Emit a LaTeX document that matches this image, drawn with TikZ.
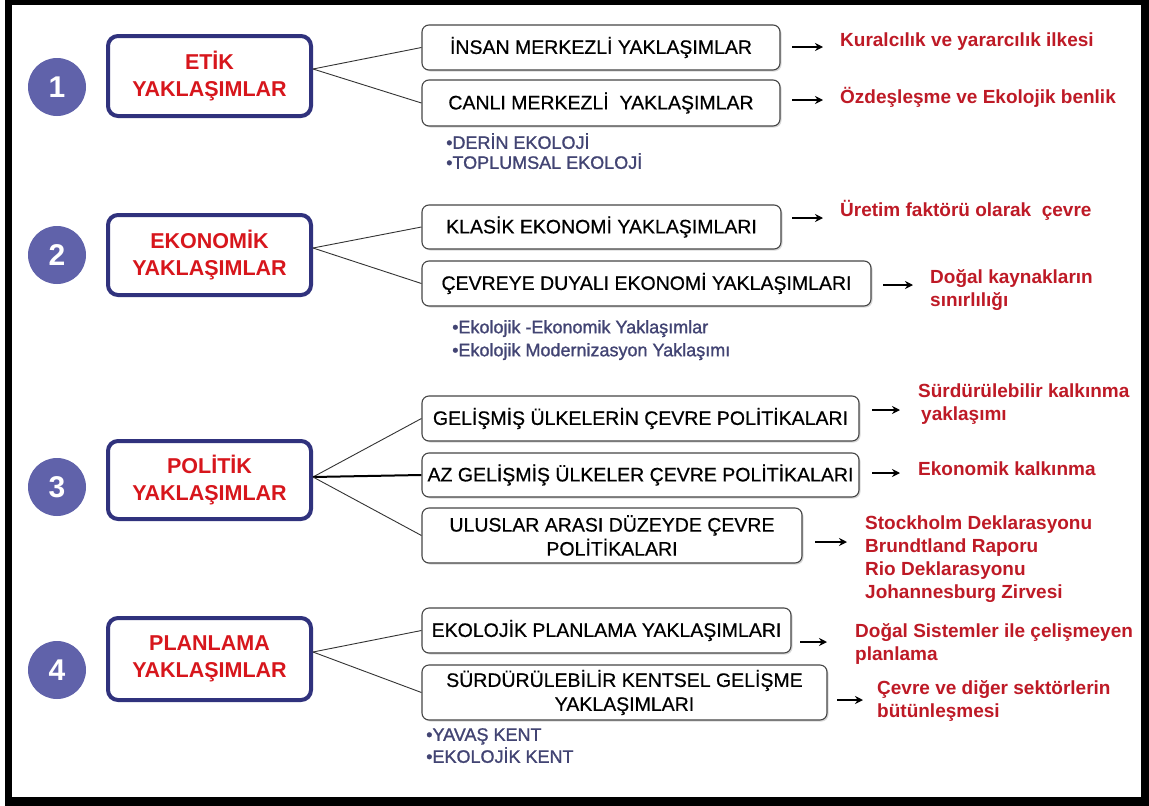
\documentclass[tikz,border=0pt]{standalone}
\usepackage{fontspec}
\setmainfont{Liberation Sans}
\newfontfamily\subfont[FakeBold=0.6]{Liberation Sans}
\newfontfamily\bulfont[FakeBold=1.2]{Liberation Sans}
\usetikzlibrary{arrows.meta,shadows}
\definecolor{navy}{RGB}{48,50,125}
\definecolor{circ}{RGB}{96,98,170}
\definecolor{lred}{RGB}{190,26,38}
\definecolor{mred}{RGB}{215,22,28}
\definecolor{bul}{RGB}{66,68,115}
\definecolor{subd}{RGB}{70,70,70}
\begin{document}
\begin{tikzpicture}[x=1pt,y=-1pt,
  num/.style={circle, fill=circ, minimum size=58pt, inner sep=0pt, text=white, font=\fontsize{30}{30}\selectfont\bfseries},
  mainbox/.style={draw=navy, line width=4pt, rounded corners=10pt, fill=white, minimum width=203pt, inner sep=0pt, align=center, text=mred, font=\fontsize{21.5}{27}\selectfont\bfseries},
  subbox/.style={draw=subd, line width=1.1pt, rounded corners=7pt, fill=white, align=center, inner sep=0pt, font=\subfont\fontsize{19.5}{24}\selectfont, drop shadow={shadow xshift=1.5pt, shadow yshift=-1.5pt, opacity=0.3, fill=gray}},
  lab/.style={anchor=west, align=left, inner sep=0pt, text=lred, font=\fontsize{19}{23}\selectfont\bfseries},
  bullets/.style={anchor=north west, align=left, inner sep=0pt, text=bul, font=\bulfont\fontsize{18}{20}\selectfont},
  conn/.style={draw=black!80, line width=0.9pt},
  arr/.style={line width=2.5pt, -{Stealth[length=8pt,width=8pt]}}
]
\useasboundingbox (0,0) rectangle (1149,806);
\fill[black] (5,0) rectangle (1149,806);
\fill[white] (12,5) rectangle (1141,797);

% circles
\node[num] (c1) at (57,87) {1};
\node[num] (c2) at (57,255) {2};
\node[num] (c3) at (57,487) {3};
\node[num] (c4) at (57,670) {4};

% main boxes
\node[mainbox, minimum height=80pt] (m1) at (209.5,76) {ETİK\\YAKLAŞIMLAR};
\node[mainbox, minimum height=80pt] (m2) at (209.5,255) {EKONOMİK\\YAKLAŞIMLAR};
\node[mainbox, minimum height=78pt] (m3) at (209.5,480) {POLİTİK\\YAKLAŞIMLAR};
\node[mainbox, minimum height=82pt] (m4) at (209.5,659) {PLANLAMA\\YAKLAŞIMLAR};

% sub boxes
\node[subbox, minimum width=358pt, minimum height=45pt] (s1a) at (601,47.5) {İNSAN MERKEZLİ YAKLAŞIMLAR};
\node[subbox, minimum width=358pt, minimum height=46pt] (s1b) at (601,103) {CANLI MERKEZLİ\ \ YAKLAŞIMLAR};
\node[subbox, minimum width=359pt, minimum height=44pt] (s2a) at (601.5,227) {KLASİK EKONOMİ YAKLAŞIMLARI};
\node[subbox, minimum width=449pt, minimum height=45pt] (s2b) at (646.5,283.5) {ÇEVREYE DUYALI EKONOMİ YAKLAŞIMLARI};
\node[subbox, minimum width=437pt, minimum height=45pt] (s3a) at (640.5,418.5) {GELİŞMİŞ ÜLKELERİN ÇEVRE POLİTİKALARI};
\node[subbox, minimum width=437pt, minimum height=44pt] (s3b) at (640.5,475) {AZ GELİŞMİŞ ÜLKELER ÇEVRE POLİTİKALARI};
\node[subbox, minimum width=380pt, minimum height=55pt] (s3c) at (612,535.5) {ULUSLAR ARASI DÜZEYDE ÇEVRE\\POLİTİKALARI};
\node[subbox, minimum width=369pt, minimum height=45pt] (s4a) at (606.5,630.5) {EKOLOJİK PLANLAMA YAKLAŞIMLARI};
\node[subbox, minimum width=405pt, minimum height=55pt] (s4b) at (624.5,692.5) {SÜRDÜRÜLEBİLİR KENTSEL GELİŞME\\YAKLAŞIMLARI};

% junctions
\coordinate (j1) at ([yshift=7pt]m1.east);
\coordinate (j2) at ([yshift=7pt]m2.east);
\coordinate (j3) at ([yshift=3pt]m3.east);
\coordinate (j4) at ([yshift=7pt]m4.east);

\draw[conn] (j1) -- (s1a.west);
\draw[conn] (j1) -- (s1b.west);
\draw[conn] (j2) -- (s2a.west);
\draw[conn] (j2) -- (s2b.west);
\draw[conn] (j3) -- (s3a.west);
\draw[line width=2pt] (j3) -- (s3b.west);
\draw[conn] (j3) -- (s3c.west);
\draw[conn] (j4) -- (s4a.west);
\draw[conn] (j4) -- (s4b.west);

% bullets
\node[bullets] (b1) at (446,133) {•DERİN EKOLOJİ\\•TOPLUMSAL EKOLOJİ};
\node[bullets, font=\bulfont\fontsize{18}{23}\selectfont] (b2) at (452,320) {•Ekolojik -Ekonomik Yaklaşımlar\\•Ekolojik Modernizasyon Yaklaşımı};
\node[bullets, font=\bulfont\fontsize{18}{22}\selectfont] (b4) at (426,728) {•YAVAŞ KENT\\•EKOLOJİK KENT};

% labels
\node[lab] (l1a) at (840,42) {Kuralcılık ve yararcılık ilkesi};
\node[lab] (l1b) at (840,97) {Özdeşleşme ve Ekolojik benlik};
\node[lab] (l2a) at (840,210) {Üretim faktörü olarak\ \ çevre};
\node[lab] (l2b) at (930,290) {Doğal kaynakların\\sınırlılığı};
\node[lab] (l3a) at (918,404) {Sürdürülebilir kalkınma\\\hspace{3pt}yaklaşımı};
\node[lab] (l3b) at (918,469) {Ekonomik kalkınma};
\node[lab] (l3c) at (865,559) {Stockholm Deklarasyonu\\Brundtland Raporu\\Rio Deklarasyonu\\Johannesburg Zirvesi};
\node[lab] (l4a) at (855,644) {Doğal Sistemler ile çelişmeyen\\planlama};
\node[lab] (l4b) at (877,701) {Çevre ve diğer sektörlerin\\bütünleşmesi};

% arrows
\coordinate (a1as) at (792,47);  \coordinate (a1ae) at (823,47);
\coordinate (a1bs) at (792,100); \coordinate (a1be) at (823,100);
\coordinate (a2as) at (792,218); \coordinate (a2ae) at (823,218);
\coordinate (a2bs) at (883,285); \coordinate (a2be) at (913,285);
\coordinate (a3as) at (872,410); \coordinate (a3ae) at (900,410);
\coordinate (a3bs) at (872,473); \coordinate (a3be) at (900,473);
\coordinate (a3cs) at (815,542); \coordinate (a3ce) at (847,542);
\coordinate (a4as) at (800,642); \coordinate (a4ae) at (827,642);
\coordinate (a4bs) at (837,700); \coordinate (a4be) at (863,700);
\foreach \a in {1a,1b,2a,2b,3a,3b,3c,4a,4b}{
  \draw[arr] (a\a s) -- (a\a e);
}
\end{tikzpicture}
\end{document}
